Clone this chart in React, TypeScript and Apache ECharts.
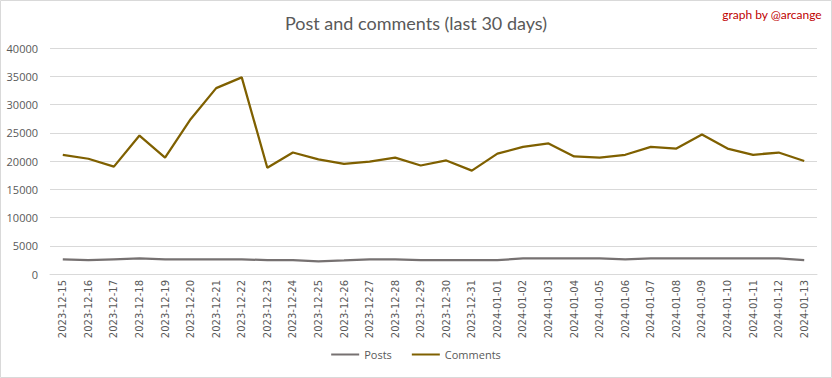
import React, { useEffect, useRef } from "react";
import * as echarts from "echarts";

const dates = [
  "2023-12-15", "2023-12-16", "2023-12-17", "2023-12-18", "2023-12-19", "2023-12-20",
  "2023-12-21", "2023-12-22", "2023-12-23", "2023-12-24", "2023-12-25", "2023-12-26",
  "2023-12-27", "2023-12-28", "2023-12-29", "2023-12-30", "2023-12-31", "2024-01-01",
  "2024-01-02", "2024-01-03", "2024-01-04", "2024-01-05", "2024-01-06", "2024-01-07",
  "2024-01-08", "2024-01-09", "2024-01-10", "2024-01-11", "2024-01-12", "2024-01-13",
];

const posts = [
  2600, 2450, 2600, 2750, 2600, 2600, 2600, 2600, 2450, 2450, 2250, 2400,
  2600, 2600, 2450, 2450, 2450, 2450, 2750, 2750, 2750, 2750, 2600, 2750,
  2750, 2750, 2750, 2750, 2750, 2450,
];

const comments = [
  21100, 20400, 19000, 24500, 20600, 27400, 32900, 34800, 18800, 21500, 20300, 19500,
  19900, 20600, 19200, 20100, 18300, 21300, 22500, 23100, 20800, 20600, 21100, 22500,
  22200, 24700, 22200, 21100, 21500, 20000,
];

const yTicks = [0, 5000, 10000, 15000, 20000, 25000, 30000, 35000, 40000];

const FONT = "Lato, 'Open Sans', sans-serif";

export default function App() {
  const ref = useRef<HTMLDivElement>(null);
  useEffect(() => {
    if (!ref.current) return;
    const chart = echarts.init(ref.current, undefined, { renderer: "svg" });
    chart.setOption({
      animation: false,
      backgroundColor: "#ffffff",
      title: {
        text: "Post and comments (last 30 days)",
        left: "center",
        top: 9,
        textStyle: { fontFamily: FONT, fontWeight: "normal", fontSize: 18, color: "#595959" },
      },
      graphic: [
        {
          type: "rect",
          shape: { x: 0.5, y: 0.5, width: 831, height: 377 },
          style: { fill: "none", stroke: "#d9d9d9", lineWidth: 1 },
          silent: true,
        },
        {
          type: "text",
          right: 10,
          top: 8,
          style: { text: "graph by @arcange", fill: "#c00000", fontSize: 12, fontFamily: FONT },
        },
      ],
      legend: {
        bottom: 13,
        left: "center",
        itemWidth: 28,
        itemHeight: 2,
        itemGap: 20,
        icon: "rect",
        textStyle: { color: "#595959", fontSize: 11, fontFamily: "'Open Sans', sans-serif" },
        data: ["Posts", "Comments"],
      },
      grid: { left: 50, right: 15, top: 48, bottom: 104, containLabel: false },
      xAxis: {
        type: "category",
        data: dates,
        boundaryGap: true,
        axisLine: { lineStyle: { color: "#d9d9d9" } },
        axisTick: { show: false },
        axisLabel: {
          rotate: 90,
          interval: 0,
          margin: 6,
          color: "#595959",
          fontSize: 10,
          fontFamily: "'DejaVu Sans', sans-serif",
        },
      },
      yAxis: {
        type: "value",
        min: yTicks[0],
        max: yTicks[yTicks.length - 1],
        interval: 5000,
        axisLine: { show: false },
        axisTick: { show: false },
        splitLine: { lineStyle: { color: "#d9d9d9", width: 1 } },
        axisLabel: {
          color: "#595959",
          fontSize: 11,
          margin: 12,
          fontFamily: "'Open Sans', sans-serif",
          formatter: (v: number) => String(v),
        },
      },
      series: [
        {
          name: "Posts",
          type: "line",
          data: posts,
          symbol: "none",
          color: "#767171",
          lineStyle: { width: 2.25, color: "#767171" },
        },
        {
          name: "Comments",
          type: "line",
          data: comments,
          symbol: "none",
          color: "#7f6000",
          lineStyle: { width: 2.25, color: "#7f6000" },
        },
      ],
    });
    return () => chart.dispose();
  }, []);
  return (
    <div
      ref={ref}
      style={{ position: "fixed", left: 0, top: 0, width: 832, height: 378 }}
    />
  );
}
